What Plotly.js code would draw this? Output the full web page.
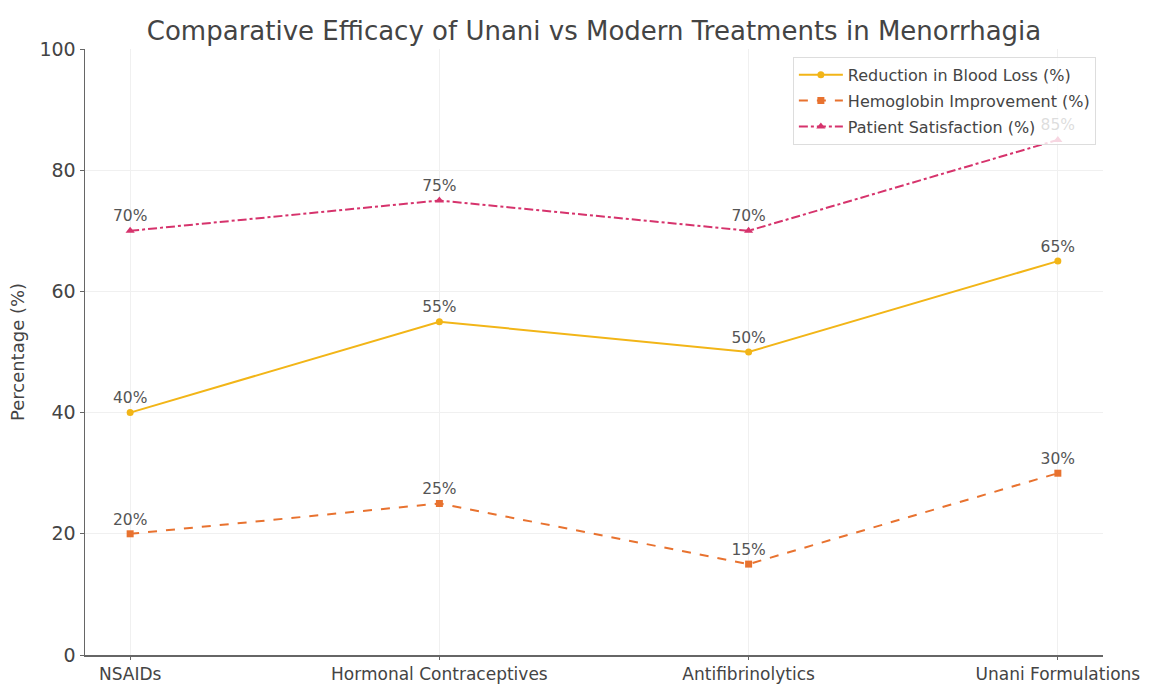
<!DOCTYPE html>
<html>
<head>
<meta charset="utf-8">
<script src="https://cdn.plot.ly/plotly-3.0.1.min.js"></script>
<style>html,body{margin:0;padding:0;background:#fff;}#chart{width:1149px;height:686px;}</style>
</head>
<body>
<div id="chart"></div>
<script>
const categories = ["NSAIDs", "Hormonal Contraceptives", "Antifibrinolytics", "Unani Formulations"];
const bloodLoss = [40, 55, 50, 65];
const hemoglobin = [20, 25, 15, 30];
const satisfaction = [70, 75, 70, 85];
const seriesNames = ["Reduction in Blood Loss (%)", "Hemoglobin Improvement (%)", "Patient Satisfaction (%)"];
const yTicks = [0, 20, 40, 60, 80, 100];

const idx = categories.map((c, i) => i);
function mk(vals, name, color, dash, symbol, size, grp) {
  return {
    x: idx, y: vals, name: name, type: 'scatter', mode: 'lines+markers+text',
    legendgroup: grp,
    line: {color: color, width: 2, dash: dash},
    marker: {color: color, symbol: symbol, size: size},
    text: vals.map(v => v + '%'), textposition: 'top center',
    textfont: {family: 'DejaVu Sans, sans-serif', size: 15.5, color: '#555'},
    cliponaxis: false
  };
}
const data = [
  mk(bloodLoss, seriesNames[0], '#F2B517', 'solid', 'circle', 7, 'a'),
  mk(hemoglobin, seriesNames[1], '#E8722F', 'dash', 'square', 7, 'b'),
  mk(satisfaction, seriesNames[2], '#D6336C', 'dashdot', 'triangle-up', 8, 'c')
];
const layout = {
  width: 1149, height: 686,
  margin: {l: 85, r: 46, t: 49, b: 31},
  paper_bgcolor: '#fff', plot_bgcolor: '#fff',
  font: {family: 'DejaVu Sans, sans-serif', color: '#444'},
  title: {text: 'Comparative Efficacy of Unani vs Modern Treatments in Menorrhagia',
          font: {size: 26, color: '#444'}, x: 0.517, xanchor: 'center', y: 0.955, yanchor: 'middle'},
  xaxis: {
    range: [-0.146, 3.146], tickvals: idx, ticktext: categories,
    showline: true, linecolor: '#666', linewidth: 1.5,
    ticks: 'outside', ticklen: 3, tickcolor: '#666',
    showgrid: true, gridcolor: '#f0f0f0', zeroline: false,
    tickfont: {size: 17, color: '#444'}
  },
  yaxis: {
    range: [0, 100], tickvals: yTicks,
    showline: true, linecolor: '#666', linewidth: 1.5,
    ticks: 'outside', ticklen: 4, tickcolor: '#666',
    showgrid: true, gridcolor: '#f0f0f0', zeroline: false,
    tickfont: {size: 19, color: '#444'},
    title: {text: 'Percentage (%)', font: {size: 18, color: '#444'}, standoff: 10}
  },
  legend: {
    x: 0.993, y: 0.987, xanchor: 'right', yanchor: 'top',
    bgcolor: 'rgba(255,255,255,0.8)', bordercolor: '#ddd', borderwidth: 1,
    font: {size: 16, color: '#444'}, tracegroupgap: 2, itemwidth: 44
  },
  showlegend: true
};
Plotly.newPlot('chart', data, layout, {displayModeBar: false, staticPlot: true});
</script>
</body>
</html>
